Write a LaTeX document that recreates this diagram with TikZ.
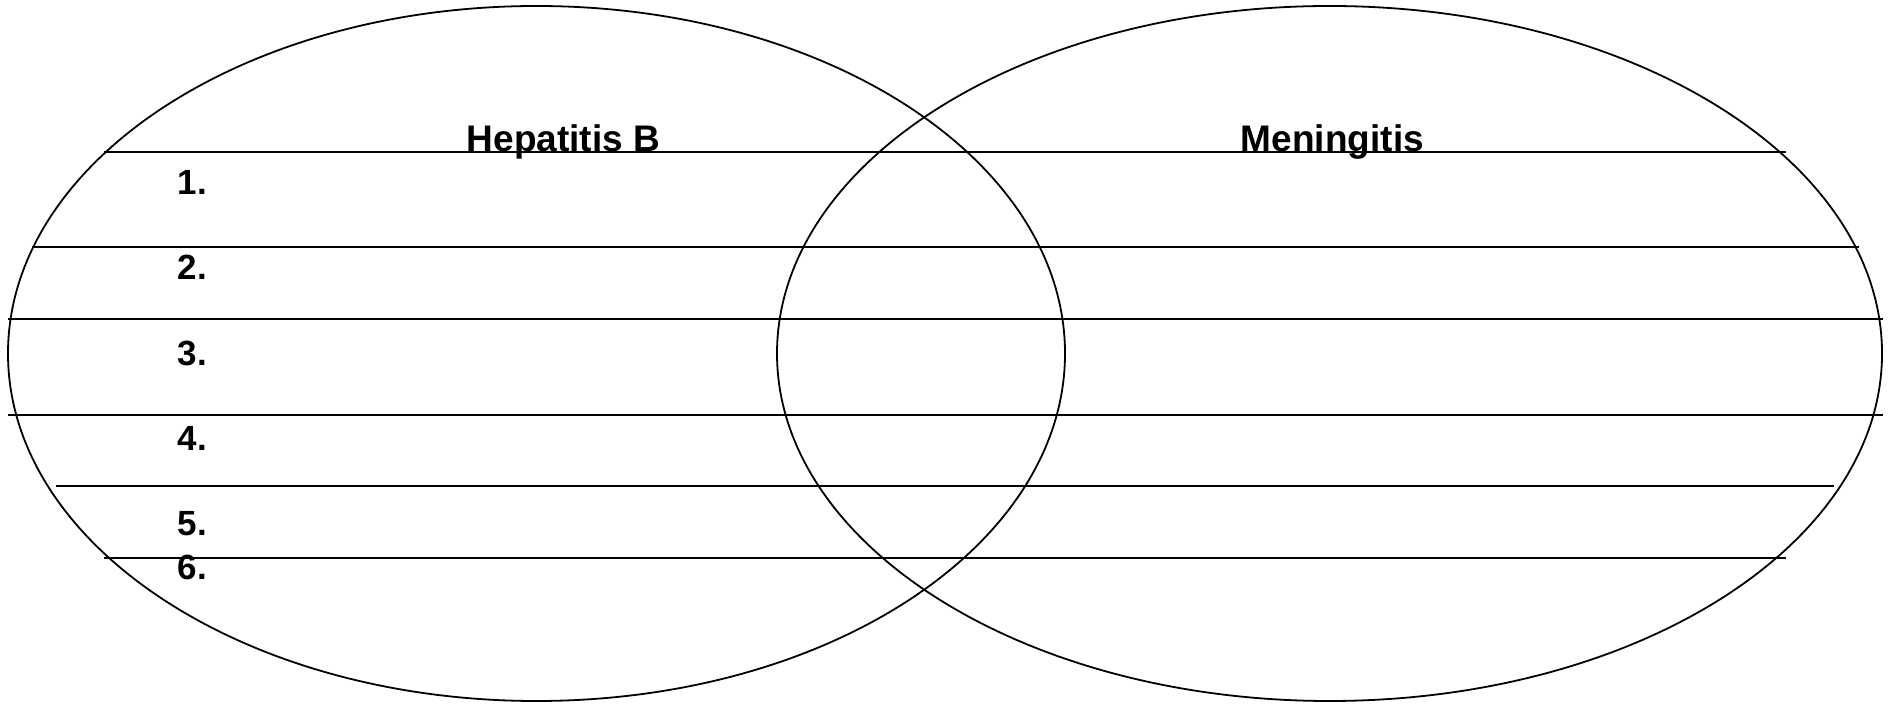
\documentclass[tikz,border=0pt]{standalone}
\usepackage{fontspec}
\setmainfont{Liberation Sans}
\usepackage{tikz}
\tikzset{
  title/.style={anchor=base west, inner sep=0pt, font=\bfseries\fontsize{18.5}{21}\selectfont},
  num/.style={anchor=base west, inner sep=0pt, font=\bfseries\fontsize{17.5}{20}\selectfont}
}
\begin{document}
\begin{tikzpicture}[x=0.5pt,y=-0.5pt,line width=0.9pt]
        \useasboundingbox (0,0) rectangle (1888,704);
        % centres of the two ellipses
        \coordinate (L) at (536.5,353.5);
        \coordinate (R) at (1329.5,353.5);

        \draw (L) ellipse [x radius=528.5, y radius=347.5];
        \draw (R) ellipse [x radius=552.5, y radius=347.5];

        % writing lines
        \foreach \y/\a/\b in {152/104/1786, 247/32/1859, 319/8/1883, 415/8/1883, 486/56/1834, 558/104/1786}
            \draw (\a,\y) -- (\b,\y);

        \node[title] (hepB) at (466,151.5) {Hepatitis B};
        \node[title] (men) at (1240,151.5) {Meningitis};

        \foreach \n/\y in {1/195, 2/280, 3/365.5, 4/451, 5/536, 6/579.5}
            \node[num] (n\n) at (177,\y) {\n.};

    \end{tikzpicture}
\end{document}
